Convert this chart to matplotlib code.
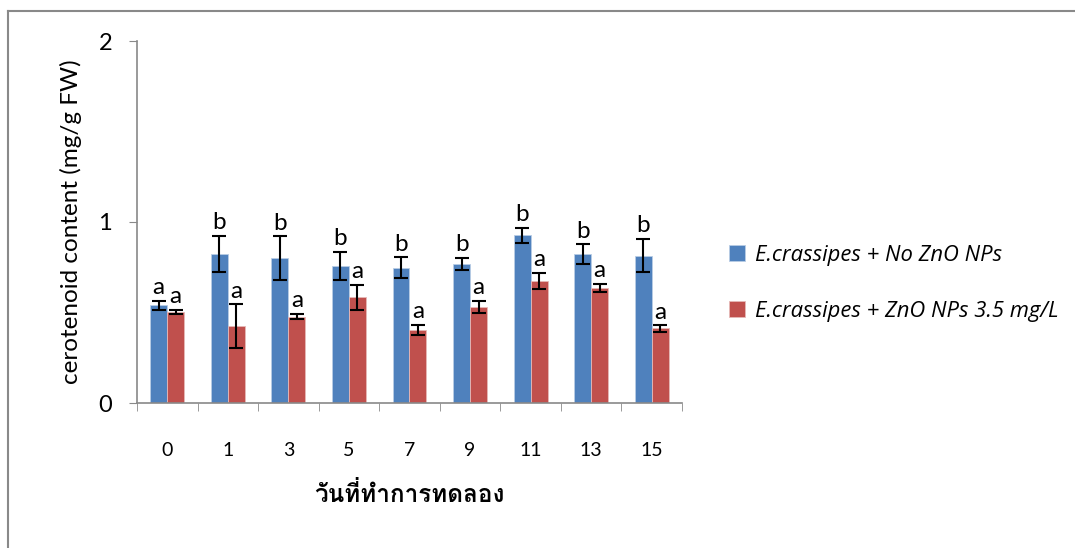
import matplotlib
matplotlib.use('Agg')
import numpy as np
import matplotlib.pyplot as plt
from matplotlib import font_manager
from matplotlib.ft2font import FT2Font
from matplotlib.lines import Line2D

days = ['0', '1', '3', '5', '7', '9', '11', '13', '15']
no_zno = [0.54, 0.823, 0.80, 0.757, 0.748, 0.768, 0.926, 0.821, 0.814]
no_zno_err = [0.026, 0.10, 0.12, 0.08, 0.057, 0.035, 0.042, 0.055, 0.092]
zno = [0.504, 0.425, 0.477, 0.584, 0.403, 0.530, 0.674, 0.637, 0.412]
zno_err = [0.01, 0.12, 0.015, 0.068, 0.03, 0.035, 0.046, 0.022, 0.017]
no_zno_letters = ['a', 'b', 'b', 'b', 'b', 'b', 'b', 'b', 'b']
zno_letters = ['a'] * 9
labels = ['E.crassipes + No ZnO NPs', 'E.crassipes + ZnO NPs 3.5 mg/L']

xlabel = 'วันที่ทำการทดลอง'
ylabel = 'cerotenoid content (mg/g FW)'


def find_thai_font():
    # look for an upright font that has Thai glyphs, bold if possible
    found = []
    for path in font_manager.findSystemFonts():
        low = path.lower()
        if 'italic' in low or 'oblique' in low:
            continue
        try:
            cmap = FT2Font(path).get_charmap()
        except Exception:
            continue
        if all(ord(c) in cmap for c in xlabel):
            found.append(path)
    found.sort(key=lambda p: ('bold' not in p.lower(), len(p)))
    return found[0] if found else None


thai_path = find_thai_font()
plt.rcParams['font.family'] = ['Lato', 'DejaVu Sans']

blue = '#4f81bd'
red = '#c0504d'
grey = '#898989'

fig = plt.figure(figsize=(10.75, 5.48), dpi=100)
ax = fig.add_axes([137 / 1075, 1 - 403 / 548, 545 / 1075, 362 / 548])

x = np.arange(len(days))
w = 0.28
ax.bar(x - w / 2, no_zno, w, color=blue, edgecolor='#b9cde5', linewidth=0.6,
       yerr=no_zno_err, capsize=5, error_kw=dict(elinewidth=1.5, capthick=1.5), label=labels[0])
ax.bar(x + w / 2, zno, w, color=red, edgecolor='#e6b9b8', linewidth=0.6,
       yerr=zno_err, capsize=5, error_kw=dict(elinewidth=1.5, capthick=1.5), label=labels[1])

for i in range(len(days)):
    ax.text(x[i] - w / 2, no_zno[i] + no_zno_err[i] + 0.015, no_zno_letters[i],
            ha='center', va='bottom', fontsize=17.5)
    ax.text(x[i] + w / 2, zno[i] + zno_err[i] + 0.015, zno_letters[i],
            ha='center', va='bottom', fontsize=17.5)

ax.set_xlim(-0.5, len(days) - 0.5)
ax.set_ylim(0, 2)
ax.set_yticks([0, 1, 2])
ax.tick_params(axis='y', labelsize=17, length=6, color=grey, pad=12)
ax.set_xticks(x)
ax.set_xticklabels(days)
ax.set_xticks(np.arange(-0.5, len(days)), minor=True)
ax.tick_params(axis='x', which='major', length=0, labelsize=14, pad=28)
ax.tick_params(axis='x', which='minor', length=6, color=grey)
for s in ['top', 'right']:
    ax.spines[s].set_visible(False)
for s in ['left', 'bottom']:
    ax.spines[s].set_color(grey)
    ax.spines[s].set_linewidth(1.2)

ax.set_ylabel(ylabel, fontsize=17.5, labelpad=12)
if thai_path:
    fp = font_manager.FontProperties(fname=thai_path, size=17.5)
    ax.set_xlabel(xlabel, fontproperties=fp, labelpad=17)
else:
    ax.set_xlabel(xlabel, fontsize=17, fontweight='bold', labelpad=17)

leg = fig.legend(loc='upper left', bbox_to_anchor=(709 / 1075, 1 - 225 / 548),
                 frameon=False, prop=dict(family=['Open Sans', 'DejaVu Sans'], style='italic', size=15.8),
                 handlelength=0.75, handleheight=0.75, labelspacing=1.6, handletextpad=0.45)

fig.add_artist(Line2D([8 / 1075, 8 / 1075], [0, 1 - 11 / 548], color=grey, lw=1.5))
fig.add_artist(Line2D([8 / 1075, 1], [1 - 11 / 548, 1 - 11 / 548], color=grey, lw=1.5))

fig.savefig('out.png', dpi=100)
